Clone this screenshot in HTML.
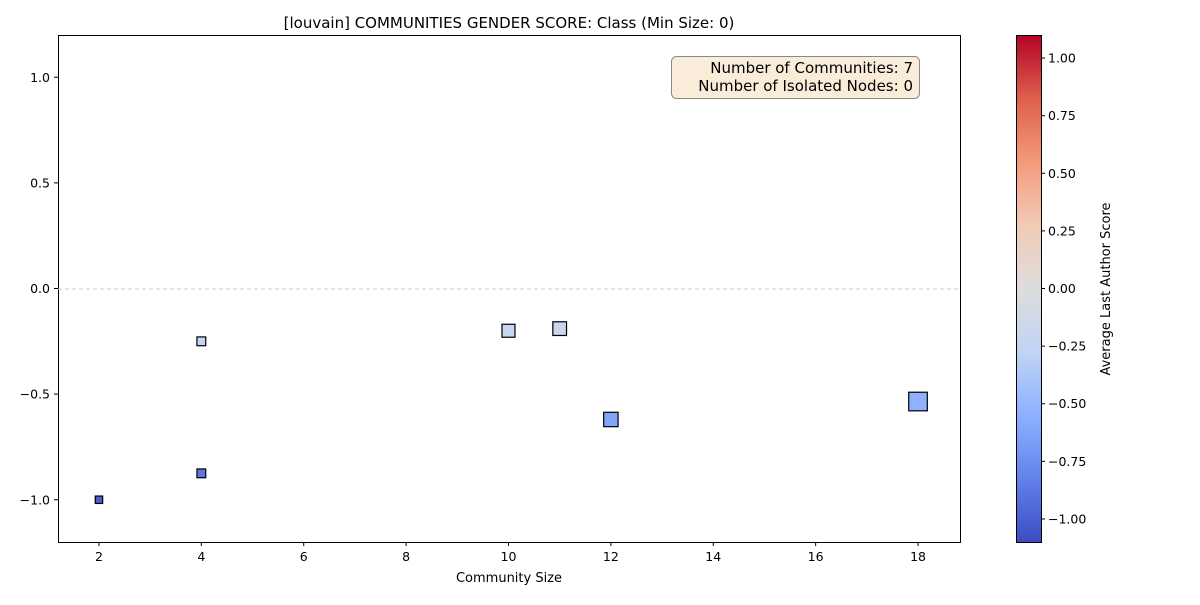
<!DOCTYPE html>
<html><head><meta charset="utf-8"><style>
body{margin:0;background:#fff}
svg{font-family:"DejaVu Sans","Liberation Sans",sans-serif}
</style></head><body>
<svg id="c" width="1200" height="600" xmlns="http://www.w3.org/2000/svg">
<defs><linearGradient id="cb" x1="0" y1="1" x2="0" y2="0">
<stop offset="0" stop-color="#3b4cc0"/><stop offset="0.125" stop-color="#6282ea"/><stop offset="0.25" stop-color="#8db0fe"/><stop offset="0.375" stop-color="#c0d4f5"/><stop offset="0.5" stop-color="#dddddd"/><stop offset="0.625" stop-color="#f2cbb7"/><stop offset="0.75" stop-color="#f49a7b"/><stop offset="0.875" stop-color="#de604d"/><stop offset="1" stop-color="#b40426"/></linearGradient></defs>
<text x="509" y="28" font-size="15" text-anchor="middle">[louvain] COMMUNITIES GENDER SCORE: Class (Min Size: 0)</text>
<rect x="58.5" y="35.5" width="902" height="507" fill="none" stroke="#000"/>
<line x1="58" x2="960" y1="289" y2="289" stroke="#ccc" stroke-dasharray="4,3"/>
<g id="xt"></g><g id="yt"></g><g id="pts"></g>
<text x="509" y="582" font-size="13" text-anchor="middle">Community Size</text>
<g>
<rect x="671.5" y="56.5" width="248" height="42" rx="5" fill="#f9edd9" stroke="#888"/>
<text x="913" y="73" font-size="15" text-anchor="end">Number of Communities: 7</text>
<text x="913" y="91" font-size="15" text-anchor="end">Number of Isolated Nodes: 0</text>
</g>
<rect x="1016.5" y="35.5" width="25" height="507" fill="url(#cb)" stroke="#000"/>
<g id="ct"></g>
<text transform="translate(1110,289) rotate(-90)" font-size="13" text-anchor="middle">Average Last Author Score</text>
</svg>
<script>
const sizes=[2,4,4,10,11,12,18];
const scores=[-1.0,-0.875,-0.25,-0.2,-0.19,-0.62,-0.535];
const xTicks=[2,4,6,8,10,12,14,16,18];
const yTicks=[-1.0,-0.5,0.0,0.5,1.0];
const cTicks=[-1.0,-0.75,-0.5,-0.25,0.0,0.25,0.5,0.75,1.0];
const NS="http://www.w3.org/2000/svg";
const X=v=>58+(v-1.2)*(902/17.62);
const Y=v=>35+(1.2-v)*(507/2.4);
const C=v=>35+(1.1-v)*(507/2.2);
const stops=[[59,76,192],[98,130,234],[141,176,254],[192,212,245],[221,221,221],[242,203,183],[244,154,123],[222,96,77],[180,4,38]];
function cmap(v){let t=(v+1.1)/2.2;t=Math.max(0,Math.min(1,t))*8;let i=Math.min(7,Math.floor(t)),f=t-i;
const a=stops[i],b=stops[i+1];return 'rgb('+a.map((x,k)=>Math.round(x+(b[k]-x)*f)).join(',')+')';}
function mk(tag,attrs,parent,txt){const e=document.createElementNS(NS,tag);for(const k in attrs)e.setAttribute(k,attrs[k]);if(txt!==undefined)e.textContent=txt;parent.appendChild(e);return e;}
const xt=document.getElementById('xt');
xTicks.forEach(v=>{const x=X(v);
const l=mk('line',{x1:x,x2:x,y1:542,y2:546,stroke:'#000'},xt);


const t=mk('text',{x:x,y:561,'font-size':12.5,'text-anchor':'middle'},xt,v);

});
const yt=document.getElementById('yt');
yTicks.forEach(v=>{const y=Y(v);
const l=mk('line',{x1:54,x2:58,y1:y,y2:y,stroke:'#000'},yt);


const t=mk('text',{x:50,y:y+4.5,'font-size':12.5,'text-anchor':'end'},yt,(v<0?'\u2212':'')+Math.abs(v).toFixed(1));

});
const ct=document.getElementById('ct');
cTicks.forEach(v=>{const y=C(v);
const l=mk('line',{x1:1041,x2:1045,y1:y,y2:y,stroke:'#000'},ct);


const t=mk('text',{x:1048,y:y+4.5,'font-size':12.5},ct,(v<0?'\u2212':'')+Math.abs(v).toFixed(2));

});
const pts=document.getElementById('pts');
sizes.forEach((s,i)=>{const side=6+0.7*s;const x=X(s),y=Y(scores[i]);
const r=mk('rect',{x:x-side/2,y:y-side/2,width:side,height:side,fill:cmap(scores[i]),stroke:'#000','stroke-width':1.2},pts);

});
</script>
</body></html>
